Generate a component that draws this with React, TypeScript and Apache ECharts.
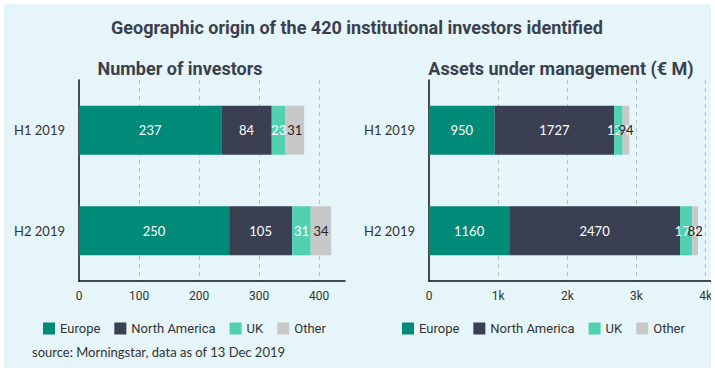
import React, { useEffect, useRef } from "react";
import * as echarts from "echarts";

const categories = ["H1 2019", "H2 2019"];
const regions = ["Europe", "North America", "UK", "Other"];
const investorsEurope = [237, 250];
const investorsNorthAmerica = [84, 105];
const investorsUK = [23, 31];
const investorsOther = [31, 34];
const aumEurope = [950, 1160];
const aumNorthAmerica = [1727, 2470];
const aumUK = [124, 178];
const aumOther = [94, 82];
const investorsTicks = [0, 100, 200, 300, 400];
const aumTicks = ["0", "1k", "2k", "3k", "4k"];

const colors = ["#008b79", "#3a3f52", "#52d1b2", "#c8c8c8"];
const labelColors = ["#ffffff", "#ffffff", "#ffffff", "#222222"];

export default function App() {
  const ref = useRef<HTMLDivElement>(null);
  useEffect(() => {
    if (!ref.current) return;
    const chart = echarts.init(ref.current, undefined, { renderer: "svg" });
    const leftData = [investorsEurope, investorsNorthAmerica, investorsUK, investorsOther];
    const rightData = [aumEurope, aumNorthAmerica, aumUK, aumOther];
    const mkSeries = (data: number[][], idx: number, stack: string) =>
      data.map((d, i) => ({
        name: regions[i],
        type: "bar",
        stack,
        xAxisIndex: idx,
        yAxisIndex: idx,
        barWidth: 49,
        data: d,
        itemStyle: { color: colors[i] },
        label: {
          show: true,
          position: "inside",
          color: labelColors[i],
          fontFamily: "Lato",
          fontSize: 13,
        },
      }));
    const xAxisBase = (max: number, interval: number, gridIndex: number, fmt: (v: number) => string) => ({
      type: "value",
      gridIndex,
      min: 0,
      max,
      interval,
      axisLine: { show: true, lineStyle: { color: "#111", width: 1.5 } },
      axisTick: { show: false },
      axisLabel: {
        showMaxLabel: false,
        margin: 9,
        color: "#333",
        fontFamily: "Roboto",
        fontSize: 12,
        formatter: fmt,
      },
      splitLine: {
        show: true,
        showMinLine: false,
        showMaxLine: false,
        lineStyle: { color: "#b5c3c7", type: [4, 4], width: 1 },
      },
    });
    const yAxisBase = (gridIndex: number) => ({
      type: "category",
      gridIndex,
      data: categories,
      inverse: true,
      axisLine: { show: true, lineStyle: { color: "#111", width: 1.5 } },
      axisTick: { show: false },
      axisLabel: { margin: 14, color: "#333", fontFamily: "Lato", fontSize: 13 },
    });
    const legendBase = (left: number) => ({
      left,
      top: 317,
      itemWidth: 12,
      itemHeight: 12,
      itemGap: 14,
      icon: "rect",
      data: regions,
      selectedMode: false,
      textStyle: { color: "#333", fontFamily: "Roboto", fontSize: 13 },
    });
    const heading = (text: string, x: number, y: number) => ({
      type: "text",
      x,
      y,
      style: {
        text,
        textAlign: "center",
        textVerticalAlign: "middle",
        align: "center",
        verticalAlign: "middle",
        fontFamily: "Roboto",
        fontSize: 18,
        fontWeight: "bold",
        fill: "#3a3f4e",
      },
    });
    chart.setOption({
      animation: false,
      backgroundColor: "transparent",
      grid: [
        { left: 79, right: 370, top: 80, bottom: 93 },
        { left: 429, right: 3, top: 80, bottom: 93 },
      ],
      xAxis: [
        xAxisBase(443, 100, 0, (v: number) => String(investorsTicks[Math.round(v / 100)] ?? v)),
        xAxisBase(4087, 1000, 1, (v: number) => aumTicks[Math.round(v / 1000)] ?? String(v)),
      ],
      yAxis: [yAxisBase(0), yAxisBase(1)],
      legend: [legendBase(38), legendBase(397)],
      series: [...mkSeries(leftData, 0, "a"), ...mkSeries(rightData, 1, "b")],
      graphic: [
        heading("Geographic origin of the 420 institutional investors identified", 357, 27),
        heading("Number of investors", 180, 68),
        heading("Assets under management (€ M)", 561, 68),
        {
          type: "text",
          x: 32,
          y: 352,
          style: {
            text: "source: Morningstar, data as of 13 Dec 2019",
            textAlign: "left",
            textVerticalAlign: "middle",
            align: "left",
            verticalAlign: "middle",
            fontFamily: "Lato",
            fontSize: 13,
            fill: "#333",
          },
        },
      ],
    });
    return () => chart.dispose();
  }, []);
  return (
    <div style={{ position: "fixed", left: 0, top: 0, width: 715, height: 374, background: "#ffffff" }}>
      <div
        style={{
          position: "absolute",
          left: 4,
          top: 4,
          width: 707,
          height: 364,
          background: "#e6f5f9",
          overflow: "hidden",
        }}
      >
        <div ref={ref} style={{ position: "absolute", left: -4, top: -4, width: 715, height: 374 }} />
      </div>
    </div>
  );
}
